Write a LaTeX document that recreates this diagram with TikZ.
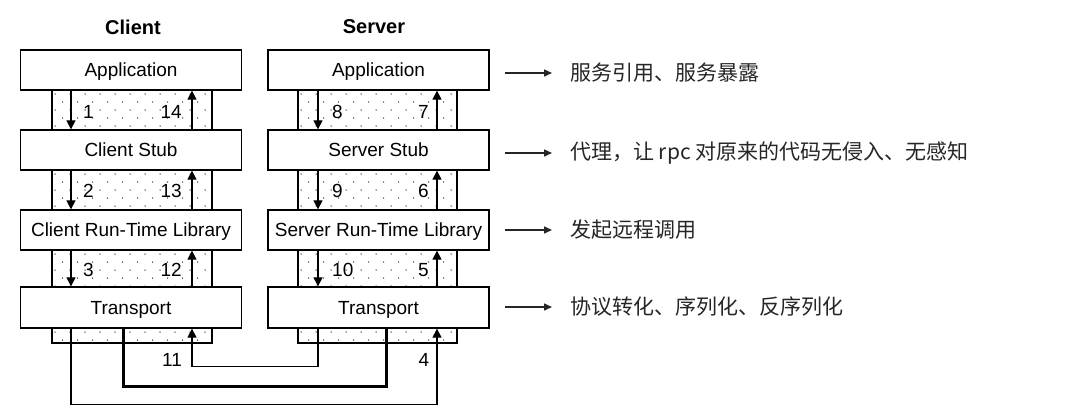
\documentclass[tikz,border=0pt]{standalone}
\usepackage{fontspec}
\setmainfont{Liberation Sans}
\newfontfamily\cjk{Noto Sans CJK SC}
\usetikzlibrary{arrows.meta}
\definecolor{dotc}{gray}{0.25}
\definecolor{notec}{gray}{0.15}

\newcommand\dotstrip[4]{%
  \begin{scope}
    \fill[white] (#1,#2) rectangle (#3,#4);
    \clip (#1,#2) rectangle (#3,#4);
    \foreach \j in {0,...,6}{
      \pgfmathsetmacro\off{mod(\j,2)*7.5}
      \foreach \i in {0,...,12}{
        \fill[dotc] ({#1+3+\off+15*\i},{#2+4+8*\j}) circle (0.75pt);
      }
    }
  \end{scope}
  \draw[line width=1.2pt] (#1,#2) rectangle (#3,#4);
}

\tikzset{
  box/.style={draw, line width=1.3pt, fill=white, minimum width=221pt,
    minimum height=40pt, inner sep=0pt, text height=13.7pt, text depth=0pt,
    font=\fontsize{19}{19}\selectfont},
  flow/.style={line width=1.2pt, -{Triangle[length=9pt,width=9pt]}},
  thickline/.style={line width=3pt},
  num/.style={font=\fontsize{19}{19}\selectfont, inner sep=0pt, text height=13.7pt, text depth=0pt},
  hdr/.style={font=\bfseries\fontsize{20}{20}\selectfont, inner sep=0pt},
  note/.style={font=\cjk\fontsize{21}{21}\selectfont, anchor=west, inner sep=0pt, text=notec},
  pointer/.style={line width=1.5pt, notec, -{Triangle[length=8pt,width=7pt]}, shorten >=18pt}
}

\begin{document}
\begin{tikzpicture}[x=1pt,y=-1pt]
\useasboundingbox (0,0) rectangle (1076,420);
\fill[white] (0,0) rectangle (1076,420);

% strips
\dotstrip{52}{90}{212}{130}
\dotstrip{52}{170}{212}{210}
\dotstrip{52}{250}{212}{287}
\dotstrip{52}{328}{212}{343}
\dotstrip{298}{90}{457}{130}
\dotstrip{298}{170}{457}{210}
\dotstrip{298}{250}{457}{287}
\dotstrip{298}{328}{457}{343}

% headers
\node[hdr] (hc) at (133,27) {Client};
\node[hdr] (hs) at (374,27) {Server};

% boxes
\node[box] (capp) at (131,70) {Application};
\node[box] (cstub) at (131,150) {Client Stub};
\node[box] (crtl) at (131,230) {Client Run-Time Library};
\node[box, minimum height=41pt] (ctrans) at (131,307.5) {Transport};
\node[box] (sapp) at (378.5,70) {Application};
\node[box] (sstub) at (378.5,150) {Server Stub};
\node[box] (srtl) at (378.5,230) {Server Run-Time Library};
\node[box, minimum height=41pt] (strans) at (378.5,307.5) {Transport};

% column coordinates
\coordinate (cd) at (71,0);
\coordinate (cu) at (192,0);
\coordinate (ct) at (123,0);
\coordinate (sd) at (318,0);
\coordinate (su) at (437,0);
\coordinate (st) at (386,0);

% client arrows
\draw[flow] (capp.south -| cd) -- (cstub.north -| cd);
\draw[flow] (cstub.north -| cu) -- (capp.south -| cu);
\draw[flow] (cstub.south -| cd) -- (crtl.north -| cd);
\draw[flow] (crtl.north -| cu) -- (cstub.south -| cu);
\draw[flow] (crtl.south -| cd) -- (ctrans.north -| cd);
\draw[flow] (ctrans.north -| cu) -- (crtl.south -| cu);
% server arrows
\draw[flow] (sapp.south -| sd) -- (sstub.north -| sd);
\draw[flow] (sstub.north -| su) -- (sapp.south -| su);
\draw[flow] (sstub.south -| sd) -- (srtl.north -| sd);
\draw[flow] (srtl.north -| su) -- (sstub.south -| su);
\draw[flow] (srtl.south -| sd) -- (strans.north -| sd);
\draw[flow] (strans.north -| su) -- (srtl.south -| su);

% bottom connections
\draw[flow] (ctrans.south -| cd) -- ++(0,76) -| (strans.south -| su);
\draw[thickline] (ctrans.south -| ct) -- ++(0,58) -| (strans.south -| st);
\draw[flow] (strans.south -| sd) -- ++(0,38) -| (ctrans.south -| cu);

% numbers
\node[num, anchor=west] (n1) at (83,112) {1};
\node[num, anchor=east] (n14) at (182,112) {14};
\node[num, anchor=west] (n2) at (83,191) {2};
\node[num, anchor=east] (n13) at (182,191) {13};
\node[num, anchor=west] (n3) at (83,270) {3};
\node[num, anchor=east] (n12) at (182,270) {12};
\node[num, anchor=west] (n8) at (332,112) {8};
\node[num, anchor=east] (n7) at (429,112) {7};
\node[num, anchor=west] (n9) at (332,191) {9};
\node[num, anchor=east] (n6) at (429,191) {6};
\node[num, anchor=west] (n10) at (332,270) {10};
\node[num, anchor=east] (n5) at (429,270) {5};
\node[num] (n11) at (172,360) {11};
\node[num] (n4) at (424,360) {4};

% right notes
\coordinate (p1) at (505,73);
\coordinate (p2) at (505,153);
\coordinate (p3) at (505,230);
\coordinate (p4) at (505,307);
\node[note] (t1) at (570,73) {服务引用、服务暴露};
\node[note] (t2) at (570,153) {代理，让 rpc 对原来的代码无侵入、无感知};
\node[note] (t3) at (570,230) {发起远程调用};
\node[note] (t4) at (570,307) {协议转化、序列化、反序列化};
\draw[pointer] (p1) -- (t1.west);
\draw[pointer] (p2) -- (t2.west);
\draw[pointer] (p3) -- (t3.west);
\draw[pointer] (p4) -- (t4.west);
\end{tikzpicture}
\end{document}
